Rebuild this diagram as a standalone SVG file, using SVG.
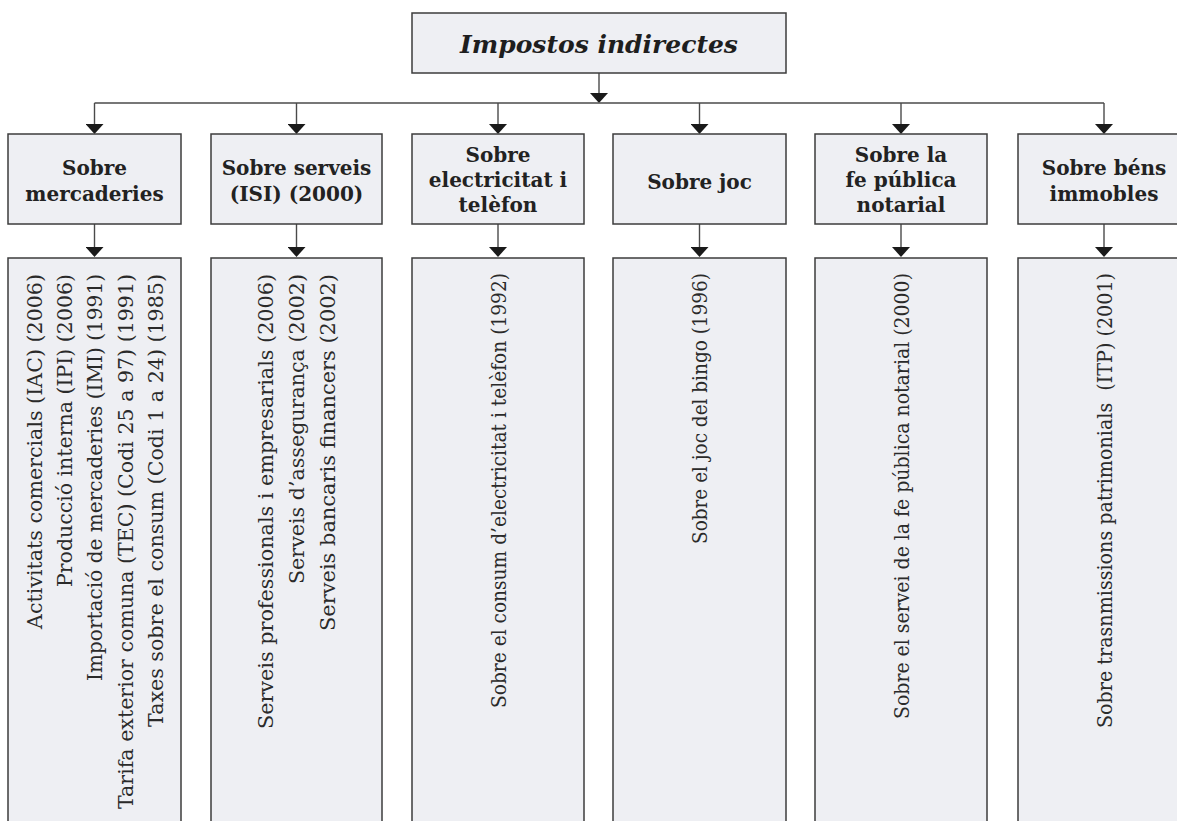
<svg xmlns="http://www.w3.org/2000/svg" width="1177" height="821" viewBox="0 0 1177 821">
<style>
  .box{fill:#eeeff3;stroke:#3c3c3c;stroke-width:1.5}
  .con{fill:none;stroke:#4a4a4a;stroke-width:1.4}
  .ttl{font-family:"DejaVu Serif",serif;font-weight:bold;font-style:italic;font-size:25px;fill:#1e1e1e;text-anchor:middle}
  .cat{font-family:"DejaVu Serif",serif;font-weight:bold;font-size:20px;fill:#222;text-anchor:middle}
  .rt{font-family:"DejaVu Serif",serif;font-size:20.5px;fill:#2a2a2a;text-anchor:end}
</style>
<defs>
  <marker id="ah" viewBox="0 0 10 18" refX="0" refY="9" markerWidth="10" markerHeight="18" markerUnits="userSpaceOnUse" orient="auto">
    <path d="M0,0 L10,9 L0,18 Z" fill="#1a1a1a"/>
  </marker>
</defs>
<rect width="1177" height="821" fill="#ffffff"/>

<g id="connectors">
  <path class="con" d="M599,73 V93" marker-end="url(#ah)"/>
  <path class="con" d="M94.5,103 H1104"/>
  <path class="con" d="M94.5,103 V124" marker-end="url(#ah)"/>
  <path class="con" d="M296.5,103 V124" marker-end="url(#ah)"/>
  <path class="con" d="M498,103 V124" marker-end="url(#ah)"/>
  <path class="con" d="M699.5,103 V124" marker-end="url(#ah)"/>
  <path class="con" d="M901,103 V124" marker-end="url(#ah)"/>
  <path class="con" d="M1104,103 V124" marker-end="url(#ah)"/>
  <path class="con" d="M94.5,224 V247" marker-end="url(#ah)"/>
  <path class="con" d="M296.5,224 V247" marker-end="url(#ah)"/>
  <path class="con" d="M498,224 V247" marker-end="url(#ah)"/>
  <path class="con" d="M699.5,224 V247" marker-end="url(#ah)"/>
  <path class="con" d="M901,224 V247" marker-end="url(#ah)"/>
  <path class="con" d="M1104,224 V247" marker-end="url(#ah)"/>
</g>

<g id="root">
  <rect class="box" x="412" y="13" width="374" height="60"/>
  <text class="ttl" x="599" y="53">Impostos indirectes</text>
</g>

<g id="cat-mercaderies">
  <rect class="box" x="8" y="134" width="173" height="90"/>
  <text class="cat" x="94.5" y="175">Sobre</text>
  <text class="cat" x="94.5" y="201">mercaderies</text>
</g>
<g id="cat-serveis">
  <rect class="box" x="211" y="134" width="171" height="90"/>
  <text class="cat" x="296.5" y="175">Sobre serveis</text>
  <text class="cat" x="296.5" y="201">(ISI) (2000)</text>
</g>
<g id="cat-electricitat">
  <rect class="box" x="412" y="134" width="172" height="90"/>
  <text class="cat" x="498" y="162">Sobre</text>
  <text class="cat" x="498" y="187">electricitat i</text>
  <text class="cat" x="498" y="212">telèfon</text>
</g>
<g id="cat-joc">
  <rect class="box" x="613" y="134" width="173" height="90"/>
  <text class="cat" x="699.5" y="189">Sobre joc</text>
</g>
<g id="cat-notarial">
  <rect class="box" x="815" y="134" width="172" height="90"/>
  <text class="cat" x="901" y="162">Sobre la</text>
  <text class="cat" x="901" y="187">fe pública</text>
  <text class="cat" x="901" y="212">notarial</text>
</g>
<g id="cat-immobles">
  <rect class="box" x="1018" y="134" width="172" height="90"/>
  <text class="cat" x="1104" y="175">Sobre béns</text>
  <text class="cat" x="1104" y="201">immobles</text>
</g>

<g id="list-mercaderies">
  <rect class="box" x="8" y="258" width="173" height="580"/>
  <text class="rt" transform="translate(42,274) rotate(-90)" textLength="355" lengthAdjust="spacingAndGlyphs">Activitats comercials (IAC) (2006)</text>
  <text class="rt" transform="translate(72,274) rotate(-90)" textLength="313" lengthAdjust="spacingAndGlyphs">Producció interna (IPI) (2006)</text>
  <text class="rt" transform="translate(102,274) rotate(-90)" textLength="407" lengthAdjust="spacingAndGlyphs">Importació de mercaderies (IMI) (1991)</text>
  <text class="rt" transform="translate(133,274) rotate(-90)" textLength="535" lengthAdjust="spacingAndGlyphs">Tarifa exterior comuna (TEC) (Codi 25 a 97) (1991)</text>
  <text class="rt" transform="translate(163,274) rotate(-90)" textLength="453" lengthAdjust="spacingAndGlyphs">Taxes sobre el consum (Codi 1 a 24) (1985)</text>
</g>
<g id="list-serveis">
  <rect class="box" x="211" y="258" width="171" height="580"/>
  <text class="rt" transform="translate(273,274) rotate(-90)" textLength="455" lengthAdjust="spacingAndGlyphs">Serveis professionals i empresarials (2006)</text>
  <text class="rt" transform="translate(304,274) rotate(-90)" textLength="310" lengthAdjust="spacingAndGlyphs">Serveis d’assegurança (2002)</text>
  <text class="rt" transform="translate(335,274) rotate(-90)" textLength="357" lengthAdjust="spacingAndGlyphs">Serveis bancaris financers (2002)</text>
</g>
<g id="list-electricitat">
  <rect class="box" x="412" y="258" width="172" height="580"/>
  <text class="rt" transform="translate(506,273) rotate(-90)" textLength="435" lengthAdjust="spacingAndGlyphs">Sobre el consum d’electricitat i telèfon (1992)</text>
</g>
<g id="list-joc">
  <rect class="box" x="613" y="258" width="173" height="580"/>
  <text class="rt" transform="translate(707,273) rotate(-90)" textLength="271" lengthAdjust="spacingAndGlyphs">Sobre el joc del bingo (1996)</text>
</g>
<g id="list-notarial">
  <rect class="box" x="815" y="258" width="172" height="580"/>
  <text class="rt" transform="translate(909,273) rotate(-90)" textLength="446" lengthAdjust="spacingAndGlyphs">Sobre el servei de la fe pública notarial (2000)</text>
</g>
<g id="list-immobles">
  <rect class="box" x="1018" y="258" width="172" height="580"/>
  <text class="rt" transform="translate(1112,273) rotate(-90)" textLength="455" lengthAdjust="spacingAndGlyphs" xml:space="preserve">Sobre trasnmissions patrimonials  (ITP) (2001)</text>
</g>
</svg>
